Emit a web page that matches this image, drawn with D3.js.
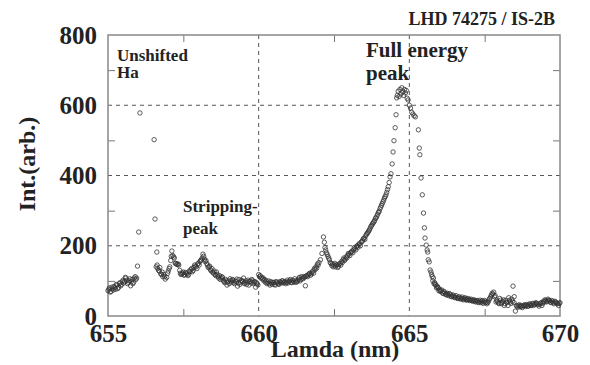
<!DOCTYPE html>
<html>
<head>
<meta charset="utf-8">
<script src="https://cdn.jsdelivr.net/npm/d3@7"></script>
<style>
  body { margin: 0; background: #fff; }
  svg { display: block; }
</style>
</head>
<body>
<svg id="chart"></svg>
<script>
const xMajor = [655, 660, 665, 670];
const xMinor = [657.5, 662.5, 667.5];
const yMajor = [0, 200, 400, 600, 800];
const yMinor = [100, 300, 500, 700];
const xGrid = [660, 665];
const yGrid = [200, 400, 600];

// [wavelength nm, intensity arb.]
const unshifted = [
  [655.00, 72], [655.05, 80], [655.10, 70], [655.15, 78], [655.20, 84], [655.25, 76],
  [655.30, 88], [655.35, 82], [655.40, 95], [655.45, 90], [655.50, 102], [655.55, 98],
  [655.60, 108], [655.65, 92], [655.70, 100], [655.75, 86], [655.80, 104], [655.85, 96],
  [655.90, 112], [655.95, 108], [655.98, 142], [656.02, 239], [656.06, 578],
  [656.53, 502], [656.56, 276], [656.60, 140], [656.62, 182], [656.65, 135],
  [656.70, 128], [656.72, 138], [656.75, 120], [656.80, 125], [656.82, 112],
  [656.85, 118], [656.90, 105], [656.95, 110], [657.00, 128], [657.05, 140],
  [657.08, 158], [657.10, 170], [657.12, 185], [657.15, 172], [657.20, 165],
  [657.25, 150], [657.28, 148], [657.30, 146], [657.35, 145], [657.40, 122]
];
const stripping = [
  [657.45, 120], [657.50, 125], [657.55, 118], [657.60, 122], [657.65, 115], [657.70, 128],
  [657.75, 132], [657.80, 126], [657.85, 138], [657.90, 142], [657.95, 135], [658.00, 150],
  [658.05, 155], [658.10, 160], [658.15, 176], [658.20, 162], [658.25, 158], [658.30, 145],
  [658.35, 140], [658.40, 132], [658.45, 135], [658.50, 122], [658.55, 118], [658.60, 125],
  [658.65, 112], [658.70, 115], [658.75, 108], [658.80, 110], [658.85, 98], [658.90, 104],
  [658.95, 88], [659.00, 100], [659.05, 106], [659.10, 96], [659.15, 102], [659.20, 92],
  [659.25, 98], [659.30, 85], [659.35, 104], [659.40, 96], [659.45, 100], [659.50, 108],
  [659.55, 95], [659.60, 90], [659.65, 102], [659.70, 98], [659.75, 94], [659.80, 100],
  [659.85, 96], [659.90, 82], [659.95, 92]
];
const middle = [
  [660.00, 118], [660.05, 115], [660.10, 110], [660.15, 108], [660.20, 104], [660.25, 100],
  [660.30, 96], [660.35, 92], [660.40, 98], [660.45, 90], [660.50, 95], [660.55, 88],
  [660.60, 96], [660.65, 92], [660.70, 98], [660.75, 94], [660.80, 100], [660.85, 96],
  [660.90, 92], [660.95, 102], [661.00, 98], [661.05, 104], [661.10, 95], [661.15, 100],
  [661.20, 106], [661.25, 96], [661.30, 102], [661.35, 110], [661.40, 104], [661.45, 108],
  [661.50, 112], [661.55, 86], [661.60, 115], [661.65, 118], [661.70, 122], [661.75, 120],
  [661.80, 128], [661.85, 135], [661.90, 140], [661.95, 148], [662.00, 152],
  [662.05, 160], [662.10, 178], [662.15, 225], [662.18, 210], [662.20, 195], [662.25, 180],
  [662.30, 170], [662.35, 160], [662.40, 150], [662.45, 148], [662.50, 145], [662.55, 140],
  [662.60, 146], [662.65, 142], [662.70, 150], [662.75, 155], [662.80, 160], [662.85, 158],
  [662.90, 168], [662.95, 172], [663.00, 176], [663.05, 180], [663.10, 185], [663.15, 188],
  [663.20, 192], [663.25, 198], [663.30, 196], [663.35, 205], [663.40, 210], [663.45, 215],
  [663.50, 222], [663.55, 228], [663.60, 235], [663.65, 242], [663.70, 250], [663.75, 258],
  [663.80, 265], [663.85, 272], [663.90, 280], [663.95, 290], [664.00, 298], [664.05, 310],
  [664.10, 320], [664.15, 330], [664.20, 340], [664.25, 352]
];
const fullEnergy = [
  [664.30, 368], [664.33, 380], [664.36, 396], [664.39, 405], [664.43, 433], [664.46, 467],
  [664.49, 499], [664.53, 536], [664.56, 573], [664.58, 621], [664.60, 628], [664.63, 640],
  [664.66, 625], [664.69, 645], [664.72, 632], [664.75, 650], [664.78, 638], [664.81, 628],
  [664.84, 645], [664.87, 635], [664.90, 642], [664.93, 620], [664.96, 615], [665.00, 600],
  [665.04, 592], [665.08, 580], [665.12, 575], [665.16, 570], [665.20, 567], [665.30, 530],
  [665.33, 478], [665.35, 459], [665.39, 393], [665.43, 345], [665.47, 293], [665.50, 251],
  [665.52, 222], [665.56, 202], [665.59, 188], [665.61, 182], [665.63, 160], [665.66, 154],
  [665.69, 131], [665.72, 125], [665.76, 112], [665.80, 108], [665.84, 95], [665.88, 88],
  [665.92, 85], [665.96, 80], [666.00, 76]
];
const tail = [
  [666.05, 72], [666.10, 66], [666.15, 70], [666.20, 62], [666.25, 65], [666.30, 58],
  [666.35, 62], [666.40, 55], [666.45, 60], [666.50, 52], [666.55, 58], [666.60, 50],
  [666.65, 55], [666.70, 48], [666.75, 54], [666.80, 46], [666.85, 52], [666.90, 45],
  [666.95, 50], [667.00, 44], [667.05, 48], [667.10, 42], [667.15, 46], [667.20, 40],
  [667.25, 44], [667.30, 38], [667.35, 45], [667.40, 42], [667.45, 36], [667.50, 44],
  [667.55, 40], [667.60, 38], [667.65, 48], [667.70, 55], [667.75, 65], [667.80, 68],
  [667.85, 58], [667.90, 45], [667.95, 38], [668.00, 50], [668.05, 35], [668.10, 42],
  [668.15, 30], [668.20, 45], [668.25, 38], [668.30, 52], [668.35, 40], [668.40, 48],
  [668.44, 85], [668.48, 55], [668.52, 14], [668.55, 30], [668.60, 25], [668.65, 32],
  [668.70, 28], [668.75, 24], [668.80, 30], [668.85, 27], [668.90, 33], [668.95, 28],
  [669.00, 35], [669.05, 30], [669.10, 36], [669.15, 33], [669.20, 38], [669.25, 34],
  [669.30, 28], [669.35, 36], [669.40, 30], [669.45, 42], [669.50, 46], [669.55, 40],
  [669.60, 48], [669.65, 44], [669.70, 38], [669.75, 42], [669.80, 35], [669.85, 40],
  [669.90, 36], [669.95, 30], [670.00, 38]
];
// second, interleaved scan readings that thicken the bands
const interleaved = [
  [655.025, 76], [655.075, 68], [655.125, 82], [655.175, 74], [655.225, 80], [655.275, 90],
  [655.325, 78], [655.375, 92], [655.425, 86], [655.475, 98], [655.525, 94], [655.575, 110],
  [655.625, 102], [655.675, 96], [655.725, 106], [655.775, 98], [655.825, 92], [655.875, 108],
  [655.925, 104],
  [656.63, 145], [656.68, 130], [656.78, 118], [656.88, 112], [656.98, 122], [657.03, 135],
  [657.18, 168], [657.23, 150], [657.33, 148], [657.38, 130],
  [657.425, 118], [657.475, 122], [657.525, 116], [657.575, 124], [657.625, 120], [657.675, 118],
  [657.725, 126], [657.775, 135], [657.825, 130], [657.875, 145], [657.925, 140], [657.975, 148],
  [658.025, 145], [658.075, 158], [658.125, 165], [658.175, 170], [658.225, 155], [658.275, 150],
  [658.325, 138], [658.375, 142], [658.425, 128], [658.475, 125], [658.525, 128], [658.575, 115],
  [658.625, 118], [658.675, 108], [658.725, 104], [658.775, 112], [658.825, 102], [658.875, 95],
  [658.925, 100], [658.975, 96], [659.025, 92], [659.075, 100], [659.125, 104], [659.175, 95],
  [659.225, 100], [659.275, 105], [659.325, 94], [659.375, 90], [659.425, 102], [659.475, 98],
  [659.525, 92], [659.575, 100], [659.625, 96], [659.675, 88], [659.725, 100], [659.775, 104],
  [659.825, 92], [659.875, 98], [659.925, 95], [659.975, 88],
  [660.025, 112], [660.075, 108], [660.125, 105], [660.175, 100], [660.225, 96], [660.275, 92],
  [660.325, 100], [660.375, 88], [660.425, 94], [660.475, 96], [660.525, 90], [660.575, 98],
  [660.625, 94], [660.675, 90], [660.725, 96], [660.775, 100], [660.825, 94], [660.875, 98],
  [660.925, 96], [660.975, 94], [661.025, 100], [661.075, 96], [661.125, 102], [661.175, 96],
  [661.225, 100], [661.275, 98], [661.325, 105], [661.375, 100], [661.425, 112], [661.475, 106],
  [661.525, 110], [661.575, 114], [661.625, 112], [661.675, 120], [661.725, 116], [661.775, 125],
  [661.825, 122], [661.875, 132], [661.925, 136], [661.975, 145],
  [662.225, 188], [662.275, 175], [662.325, 165], [662.375, 152], [662.425, 144], [662.475, 140],
  [662.525, 150], [662.575, 145], [662.625, 138], [662.675, 148], [662.725, 145], [662.775, 152],
  [662.825, 165], [662.875, 162], [662.925, 165], [662.975, 178], [663.025, 172], [663.075, 182],
  [663.125, 180], [663.175, 195], [663.225, 188], [663.275, 200], [663.325, 205], [663.375, 200],
  [663.425, 212], [663.475, 220], [663.525, 218], [663.575, 232], [663.625, 238], [663.675, 245],
  [663.725, 255], [663.775, 262], [663.825, 268], [663.875, 278], [663.925, 285], [663.975, 295],
  [664.025, 305], [664.075, 315], [664.125, 325], [664.175, 336], [664.225, 345], [664.275, 360],
  [665.74, 118], [665.78, 100], [665.82, 92], [665.86, 90], [665.90, 80], [665.94, 82],
  [665.98, 72], [666.025, 70], [666.075, 74], [666.125, 64], [666.175, 66], [666.225, 60],
  [666.275, 62], [666.325, 64], [666.375, 56], [666.425, 58], [666.475, 55], [666.525, 54],
  [666.575, 52], [666.625, 50], [666.675, 52], [666.725, 50], [666.775, 48], [666.825, 50],
  [666.875, 47], [666.925, 48], [666.975, 46], [667.025, 46], [667.075, 44], [667.125, 45],
  [667.175, 42], [667.225, 44], [667.275, 40], [667.325, 42], [667.375, 38], [667.425, 44],
  [667.475, 40], [667.525, 38], [667.575, 35], [667.625, 42], [667.675, 50], [667.725, 60],
  [667.775, 62], [667.825, 55], [667.875, 40], [667.925, 42], [667.975, 35], [668.025, 45],
  [668.075, 38], [668.125, 46], [668.175, 35], [668.225, 40], [668.275, 30], [668.325, 45],
  [668.375, 36], [668.425, 42], [668.475, 38], [668.575, 28], [668.625, 30], [668.675, 26],
  [668.725, 30], [668.775, 28], [668.825, 32], [668.875, 30], [668.925, 28], [668.975, 32],
  [669.025, 30], [669.075, 34], [669.125, 30], [669.175, 35], [669.225, 36], [669.275, 32],
  [669.325, 34], [669.375, 38], [669.425, 36], [669.475, 40], [669.525, 44], [669.575, 42],
  [669.625, 45], [669.675, 40], [669.725, 44], [669.775, 38], [669.825, 42], [669.875, 38],
  [669.925, 35], [669.975, 36]
];

const FONT = "'Liberation Serif', 'Times New Roman', serif";
const width = 590;
const height = 365;
const margin = { top: 35, right: 30, bottom: 49, left: 108 };
const innerWidth = width - margin.left - margin.right;
const innerHeight = height - margin.top - margin.bottom;

const svg = d3.select("#chart").attr("width", width).attr("height", height);
const g = svg.append("g").attr("transform", `translate(${margin.left},${margin.top})`);

const x = d3.scaleLinear().domain([655, 670]).range([0, innerWidth]);
const y = d3.scaleLinear().domain([0, 800]).range([innerHeight, 0]);

// dashed grid
g.selectAll(".vgrid").data(xGrid).enter().append("line")
  .attr("x1", (d) => x(d)).attr("x2", (d) => x(d))
  .attr("y1", 0).attr("y2", innerHeight)
  .attr("stroke", "#444").attr("stroke-width", 0.9).attr("stroke-dasharray", "4,4");
g.selectAll(".hgrid").data(yGrid).enter().append("line")
  .attr("x1", 0).attr("x2", innerWidth)
  .attr("y1", (d) => y(d)).attr("y2", (d) => y(d))
  .attr("stroke", "#444").attr("stroke-width", 0.9).attr("stroke-dasharray", "4,4");

// inward minor ticks on all four sides
function tickStyle(sel) {
  sel.select(".domain").remove();
  sel.selectAll("line").attr("stroke", "#777").attr("stroke-width", 1);
  sel.selectAll("text").remove();
}
g.append("g").attr("transform", `translate(0,${innerHeight})`)
  .call(d3.axisBottom(x).tickValues(xMinor).tickSize(-7)).call(tickStyle);
g.append("g").call(d3.axisTop(x).tickValues(xMinor).tickSize(-7)).call(tickStyle);
g.append("g").call(d3.axisLeft(y).tickValues(yMinor).tickSize(-7)).call(tickStyle);
g.append("g").attr("transform", `translate(${innerWidth},0)`)
  .call(d3.axisRight(y).tickValues(yMinor).tickSize(-7)).call(tickStyle);

// frame
g.append("rect")
  .attr("width", innerWidth).attr("height", innerHeight)
  .attr("fill", "none").attr("stroke", "#888").attr("stroke-width", 1.5);

// tick labels
const xLabels = g.append("g").attr("transform", `translate(0,${innerHeight})`)
  .call(d3.axisBottom(x).tickValues(xMajor).tickSize(0).tickPadding(8).tickFormat(d3.format("d")));
xLabels.select(".domain").remove();
xLabels.attr("font-family", FONT).attr("font-size", 25).attr("font-weight", "bold");
xLabels.selectAll("text").attr("fill", "#222");

const yLabels = g.append("g")
  .call(d3.axisLeft(y).tickValues(yMajor).tickSize(0).tickPadding(11).tickFormat(d3.format("d")));
yLabels.select(".domain").remove();
yLabels.attr("font-family", FONT).attr("font-size", 25).attr("font-weight", "bold");
yLabels.selectAll("text").attr("fill", "#222");

// points
const spectrum = unshifted.concat(stripping, middle, fullEnergy, tail, interleaved);
g.selectAll(".pt").data(spectrum).enter().append("circle")
  .attr("class", "pt")
  .attr("cx", (d) => x(d[0]))
  .attr("cy", (d) => y(d[1]))
  .attr("r", 2.2)
  .attr("fill", "none")
  .attr("stroke", "#333")
  .attr("stroke-width", 0.8);

// texts
function label(s, px, py, size, anchor) {
  return svg.append("text")
    .attr("x", px).attr("y", py)
    .attr("font-family", FONT).attr("font-weight", "bold")
    .attr("font-size", size).attr("fill", "#222")
    .attr("text-anchor", anchor || "start")
    .text(s);
}
label("Unshifted", 117, 61, 17);
label("Ha", 117, 78, 17);
label("Full energy", 366, 57, 21);
label("peak", 366, 80, 21);
label("Stripping-", 183, 212, 17);
label("peak", 183, 234, 17);
label("LHD 74275 / IS-2B", 555, 25, 18, "end");
label("Lamda (nm)", 335, 357, 24, "middle");
label("Int.(arb.)", 0, 0, 24, "middle")
  .attr("transform", "translate(35,164) rotate(-90)");
</script>
</body>
</html>
